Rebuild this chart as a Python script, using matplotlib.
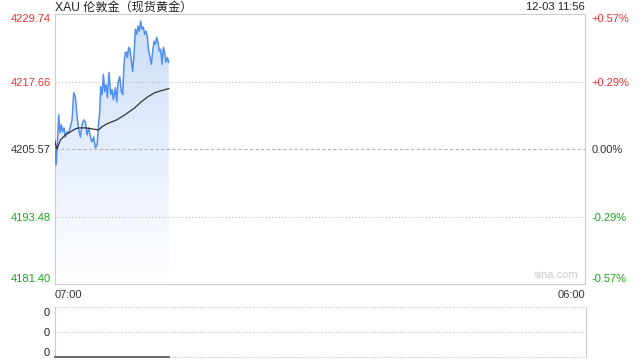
import matplotlib.pyplot as plt
import numpy as np
from matplotlib.patches import Polygon

plt.rcParams['font.family'] = ['Liberation Sans', 'Noto Sans CJK SC', 'DejaVu Sans']

# minutes after 07:00 and price
minutes = [0, 2.6, 5.2, 9.6, 13, 16.5, 20, 23.4, 26.9, 31.2, 35.6, 39.9, 44.3, 48.6, 52.9,
           57.3, 61.6, 66, 70.3, 74.7, 79, 83.3, 87.7, 92, 96.3, 100.7, 105, 109.4, 113.7,
           116.3, 118.9, 122.4, 125.9, 129.3, 132.8, 136.3, 140.6, 145, 148.4, 151.9, 157.1,
           160.6, 164, 168.4, 172.7, 176.2, 179.7, 183.1, 186.6, 188.4, 191.8, 195.3, 198.8,
           202.2, 205.7, 209.2, 212.7, 216.1, 219.6, 223.1, 226.5, 230, 233.5, 237, 240.4,
           243.9, 247.4, 250.8, 254.3, 257.8, 261.3, 264.7, 268.2, 271.7, 275.2, 278.6,
           282.1, 285.6, 289, 292.5, 296]
price = [4207.19, 4202.68, 4205.39, 4211.70, 4208.46, 4209.90, 4208.64, 4209.36, 4207.74,
         4208.64, 4208.46, 4209.54, 4210.80, 4215.67, 4214.95, 4211.34, 4209.00, 4207.74,
         4209.90, 4210.80, 4210.44, 4208.10, 4209.36, 4207.74, 4206.83, 4207.74, 4205.75,
         4206.29, 4210.26, 4212.24, 4216.75, 4215.31, 4218.92, 4215.85, 4217.11, 4214.77,
         4219.28, 4215.31, 4216.21, 4214.41, 4216.57, 4214.05, 4217.47, 4218.56, 4215.85,
         4215.31, 4220.72, 4222.89, 4222.89, 4221.98, 4223.79, 4223.43, 4221.26, 4219.46,
         4222.53, 4227.03, 4226.13, 4227.58, 4226.67, 4228.48, 4227.03, 4227.40, 4226.13,
         4226.67, 4225.59, 4223.07, 4221.98, 4220.72, 4223.07, 4224.87, 4224.33, 4225.59,
         4224.69, 4223.07, 4223.43, 4220.72, 4223.79, 4222.89, 4221.08, 4221.98, 4221.08]

avg_minutes = [0, 5, 14, 27, 40, 53, 62, 79, 96, 114, 122, 135, 161, 182, 208, 225, 242, 260, 277, 296]
avg_price = [4206.83, 4205.57, 4207.19, 4208.10, 4208.64, 4209.18, 4209.36, 4209.36, 4209.18,
             4209.00, 4209.54, 4210.08, 4210.80, 4211.70, 4212.97, 4214.05, 4214.95, 4215.67,
             4216.03, 4216.39]

price_ticks = [4181.40, 4193.48, 4205.57, 4217.66, 4229.74]
pct_ticks = ['-0.57%', '-0.29%', '0.00%', '+0.29%', '+0.57%']
tick_colors = ['#1aa61a', '#1aa61a', '#333333', '#f03030', '#f03030']
prev_close = 4205.57
total_minutes = 1380

fig = plt.figure(figsize=(6.4, 3.6), dpi=100)
ax = fig.add_axes([0.086, 0.211, 0.828, 0.75])
ax.set_xlim(0, total_minutes)
ax.set_ylim(price_ticks[0], price_ticks[-1])

# gradient fill under the price line
grad = np.linspace(1, 0, 256).reshape(-1, 1)
top_c = np.array([0.80, 0.87, 0.98])
img = np.ones((256, 1, 4))
img[:, 0, :3] = top_c * grad + (1 - grad) * 1.0
img[:, 0, 3] = 1
im = ax.imshow(img, extent=[0, total_minutes, price_ticks[0], max(price)], aspect='auto',
               origin='upper', zorder=1)
verts = [(minutes[0], price_ticks[0])] + list(zip(minutes, price)) + [(minutes[-1], price_ticks[0])]
poly = Polygon(verts, closed=True, facecolor='none', edgecolor='none')
ax.add_patch(poly)
im.set_clip_path(poly)

ax.plot(minutes, price, color='#4f8ff0', lw=1.1, zorder=3)
ax.plot(avg_minutes, avg_price, color='#333333', lw=0.9, zorder=4)

for p in [price_ticks[1], price_ticks[3]]:
    ax.axhline(p, color='#bbbbbb', lw=0.8, ls=(0, (1, 2)), zorder=2)
ax.axhline(prev_close, color='#b5b5b5', lw=0.8, ls=(0, (3, 2)), zorder=2)

for s in ax.spines.values():
    s.set_color('#cccccc')
    s.set_linewidth(0.8)

ax.set_xticks([])
ax.set_yticks(price_ticks)
ax.set_yticklabels(['%.2f' % p for p in price_ticks], fontsize=8)
ax.tick_params(axis='y', length=0, pad=3)
for lbl, c in zip(ax.get_yticklabels(), tick_colors):
    lbl.set_color(c)
ylabs = ax.get_yticklabels()
ylabs[0].set_va('bottom')
ylabs[-1].set_va('top')

ax2 = ax.twinx()
ax2.set_ylim(price_ticks[0], price_ticks[-1])
ax2.set_yticks(price_ticks)
ax2.set_yticklabels(pct_ticks, fontsize=8)
ax2.tick_params(axis='y', length=0, pad=5)
for lbl, c in zip(ax2.get_yticklabels(), tick_colors):
    lbl.set_color(c)
ylabs2 = ax2.get_yticklabels()
ylabs2[0].set_va('bottom')
ylabs2[-1].set_va('top')
for s in ax2.spines.values():
    s.set_visible(False)

ax.text(0, -0.022, '07:00', transform=ax.transAxes, ha='left', va='top', fontsize=8, color='#333333')
ax.text(1, -0.022, '06:00', transform=ax.transAxes, ha='right', va='top', fontsize=8, color='#333333')
ax.text(0.945, 0.015, 'sina.com', transform=ax.transAxes, ha='center', va='bottom',
        fontsize=8, color='#cccccc')

fig.text(0.086, 0.98, 'XAU 伦敦金（现货黄金）', ha='left', va='center', fontsize=8.7, color='#222222')
fig.text(0.913, 0.98, '12-03 11:56', ha='right', va='center', fontsize=8, color='#222222')

# volume panel
axv = fig.add_axes([0.086, 0.008, 0.83, 0.139])
axv.set_xlim(0, total_minutes)
axv.set_ylim(0, 1)
vol = [0 for _ in minutes]
axv.plot(minutes, vol, color='#555555', lw=1.2, zorder=3, clip_on=False)
for yv in [0, 0.5, 1]:
    axv.axhline(yv, color='#bbbbbb', lw=0.8, ls=(0, (1, 1.5)), zorder=1, clip_on=False)
axv.spines['top'].set_visible(False)
axv.spines['bottom'].set_visible(False)
axv.spines['left'].set_color('#cccccc')
axv.spines['right'].set_color('#cccccc')
axv.set_xticks([])
axv.set_yticks([0.1, 0.5, 0.9])
axv.set_yticklabels(['0', '0', '0'], fontsize=8, color='#222222')
axv.tick_params(axis='y', length=0, pad=4)

fig.savefig('out.png', dpi=100)
